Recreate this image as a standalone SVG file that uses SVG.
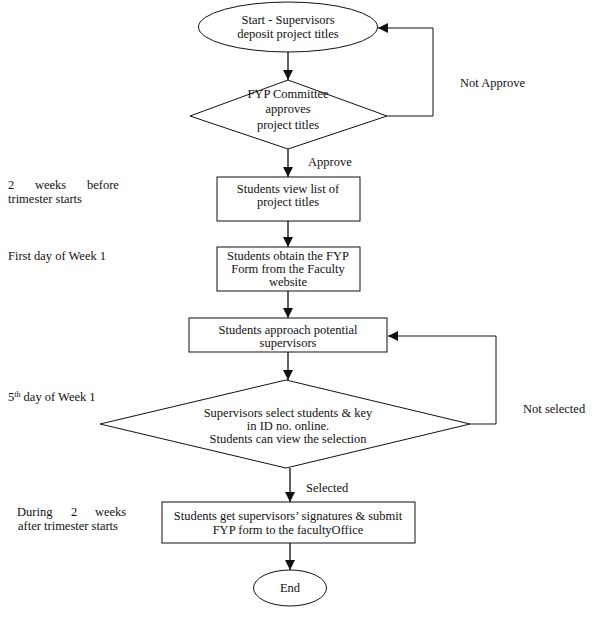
<svg xmlns="http://www.w3.org/2000/svg" width="596" height="617" viewBox="0 0 596 617">
<style>
  text { font-family: "Liberation Serif", "Times New Roman", serif; font-size: 12.5px; fill: #111; }
  .c { text-anchor: middle; }
  .shape { fill: #fff; stroke: #111; stroke-width: 1; }
  .flow { fill: none; stroke: #3a3a3a; stroke-width: 1.6; }
  .loop { fill: none; stroke: #111; stroke-width: 1; }
</style>
<defs>
  <marker id="arr" markerUnits="userSpaceOnUse" markerWidth="10" markerHeight="10" viewBox="0 0 10 10" refX="10" refY="5" orient="auto">
    <path d="M0,0 L10,5 L0,10 z" fill="#111"/>
  </marker>
</defs>
<rect width="596" height="617" fill="#fff"/>

<g id="connectors">
  <line class="flow" x1="288" y1="52" x2="288" y2="80" marker-end="url(#arr)"/>
  <line class="flow" x1="288" y1="149" x2="288" y2="177" marker-end="url(#arr)"/>
  <line class="flow" x1="288" y1="221" x2="288" y2="247" marker-end="url(#arr)"/>
  <line class="flow" x1="288" y1="291" x2="288" y2="318" marker-end="url(#arr)"/>
  <line class="flow" x1="288" y1="352" x2="288" y2="380" marker-end="url(#arr)"/>
  <line class="flow" x1="290" y1="468" x2="290" y2="502" marker-end="url(#arr)"/>
  <line class="flow" x1="290" y1="543" x2="290" y2="570" marker-end="url(#arr)"/>
  <polyline class="loop" points="387,116 433,116 433,28 378,28" marker-end="url(#arr)"/>
  <polyline class="loop" points="470,424 496,424 496,336 388,336" marker-end="url(#arr)"/>
  <text x="308" y="166">Approve</text>
  <text x="460" y="87">Not Approve</text>
  <text x="306" y="492">Selected</text>
  <text x="523" y="413">Not selected</text>
</g>

<g id="start">
  <ellipse class="shape" cx="288" cy="27" rx="89.5" ry="25"/>
  <text class="c" x="288" y="24">Start - Supervisors</text>
  <text class="c" x="288" y="38">deposit project titles</text>
</g>

<g id="committee">
  <polygon class="shape" points="288,80 387,116 288,149 190,116"/>
  <text class="c" x="288" y="98">FYP Committee</text>
  <text class="c" x="288" y="113">approves</text>
  <text class="c" x="288" y="129">project titles</text>
</g>

<g id="view-list">
  <rect class="shape" x="217" y="177" width="143" height="44"/>
  <text class="c" x="288" y="193">Students view list of</text>
  <text class="c" x="288" y="206">project titles</text>
</g>

<g id="obtain-form">
  <rect class="shape" x="217" y="247" width="143" height="44"/>
  <text class="c" x="288" y="260">Students obtain the FYP</text>
  <text class="c" x="288" y="273">Form from the Faculty</text>
  <text class="c" x="288" y="286">website</text>
</g>

<g id="approach">
  <rect class="shape" x="189" y="318" width="198" height="34"/>
  <text class="c" x="288" y="334">Students approach potential</text>
  <text class="c" x="288" y="347">supervisors</text>
</g>

<g id="select">
  <polygon class="shape" points="286,380 470,424 286,468 100,424"/>
  <text class="c" x="288" y="417">Supervisors select students &amp; key</text>
  <text class="c" x="288" y="430">in ID no. online.</text>
  <text class="c" x="288" y="443">Students can view the selection</text>
</g>

<g id="submit">
  <rect class="shape" x="162" y="502" width="253" height="41"/>
  <text class="c" x="288" y="520">Students get supervisors’ signatures &amp; submit</text>
  <text class="c" x="288" y="534">FYP form to the facultyOffice</text>
</g>

<g id="end">
  <ellipse class="shape" cx="290" cy="588" rx="36.5" ry="18"/>
  <text class="c" x="290" y="592">End</text>
</g>

<g id="timeline">
  <text x="8" y="189">2</text>
  <text x="35" y="189">weeks</text>
  <text x="87" y="189">before</text>
  <text x="8" y="203">trimester starts</text>
  <text x="8" y="260">First day of  Week 1</text>
  <text x="8" y="401">5<tspan font-size="8" dy="-4">th</tspan><tspan dy="4"> day of Week 1</tspan></text>
  <text x="17" y="516">During</text>
  <text x="71" y="516">2</text>
  <text x="95" y="516">weeks</text>
  <text x="18" y="530">after trimester starts</text>
</g>
</svg>
